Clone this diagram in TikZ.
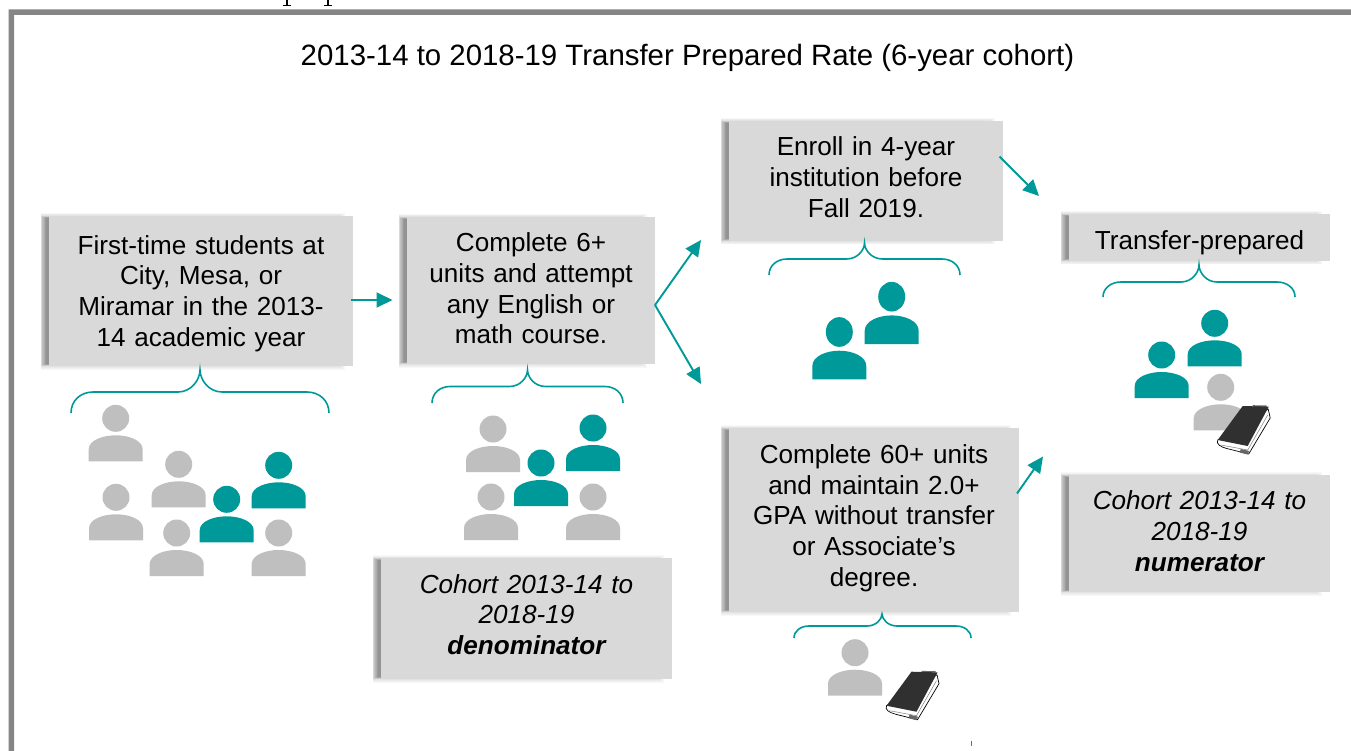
\documentclass[tikz,border=0pt]{standalone}
\usepackage{fontspec}
\setmainfont{Liberation Sans}
\usetikzlibrary{arrows.meta}
\definecolor{tealc}{HTML}{009999}
\definecolor{grayp}{HTML}{BFBFBF}
\definecolor{boxc}{HTML}{D9D9D9}
\definecolor{framec}{HTML}{858585}
\definecolor{bookc}{HTML}{303030}
\tikzset{
  x=1pt,y=-1pt,
  flow/.style={draw=tealc,line width=1.9pt,-{Triangle[length=16pt,width=15pt,fill=tealc]}},
  bracel/.style={draw=tealc,line width=1.6pt},
  boxlabel/.style={inner sep=0pt,align=center,font=\fontsize{26.1}{30.7}\selectfont},
  person/.pic={
    \fill (0,0) circle[radius=13.5];
    \fill (-27,43) -- (-27,31) .. controls (-27,22) and (-13,17) .. (0,17) .. controls (13,17) and (27,22) .. (27,31) -- (27,43) -- cycle;
  },
  book/.pic={
    \fill[white,draw=black,line width=.7pt,line join=round] (-25,34) .. controls (-27,38) and (-22,41) .. (-16,42.5) -- (6,48) -- (27.5,12) -- (25.5,3) -- cycle;
    \draw[gray,line width=.5pt] (-22,39) -- (5,44) -- (25,9);
    \fill[black!60] (-3,46.5) -- (5,48.5) -- (6.5,45) -- (-2,43) -- cycle;
    \fill[black!60] (10,-.8) -- (24,-.5) -- (24,1) -- (10,1) -- cycle;
    \fill[bookc] (0,0) -- (26,0.7) -- (5,40) -- (-25,34) -- cycle;
  }
}
% name, left, top, right, bottom, text y offset, text
\newcommand{\gbox}[7]{%
  \foreach \k in {0,1,2,3}{%
    \fill[black,opacity=.028] ({#2-8.5},{#3-3+\k*.75}) rectangle ({#4-8-\k*1.5},{#5+3.5-\k*.75});
  }%
  \foreach \k in {0,...,7}{%
    \fill[black,opacity=.05] ({#2-8+\k*.7},{#3+\k*.3}) rectangle (#2,{#5-\k*.3});
  }%
  \fill[boxc] (#2,#3) rectangle (#4,#5);
  \node[boxlabel,text width={#4-#2}] (#1) at ({(#2+#4)/2},{(#3+#5)/2+#6}) {#7};%
}
% left, tip x, right, tip y, top y, end y, x radius
\newcommand{\bracket}[7]{%
  \draw[bracel] (#1,#6) .. controls (#1,{#5+.4*(#6-#5)}) and ({#1+.45*#7},#5) .. ({#1+#7},#5)
    -- ({#2-#7},#5) .. controls ({#2-.4*#7},#5) and ({#2-.1},{#4+.45*(#5-#4)}) .. (#2,#4)
    .. controls ({#2+.1},{#4+.45*(#5-#4)}) and ({#2+.4*#7},#5) .. ({#2+#7},#5)
    -- ({#3-#7},#5) .. controls ({#3-.45*#7},#5) and (#3,{#5+.4*(#6-#5)}) .. (#3,#6);%
}
\begin{document}
\begin{tikzpicture}
\useasboundingbox (0,0) rectangle (1351,751);
\fill[white] (0,0) rectangle (1351,751);
% descenders of a line cut off by the top edge
\foreach \sx in {287.3,328}{
  \fill[black] (\sx-1,0) rectangle (\sx+1,5);
  \fill[black] (\sx-4,4.6) rectangle (\sx+4,5.6);
}
% frame
\fill[framec] (8.5,751) -- (8.5,9.5) -- (1351,9.5) -- (1351,15) -- (14,15) -- (14,751) -- cycle;
\node[inner sep=0pt,font=\fontsize{29.4}{32}\selectfont] (title) at (687.5,58) {2013-14 to 2018-19 Transfer Prepared Rate (6-year cohort)};
% boxes
\gbox{first}{49}{216}{353}{366}{2.5}{First-time students at\\City, Mesa, or\\Miramar in the 2013-\\14 academic year}
\gbox{six}{407}{217}{655}{364}{-2}{Complete 6+\\units and attempt\\any English or\\math course.}
\gbox{enroll}{729}{121}{1003}{241}{-4}{Enroll in 4-year\\institution before\\Fall 2019.}
\gbox{prepared}{1069}{214}{1330}{261}{5}{Transfer-prepared}
\gbox{sixty}{729}{428}{1019}{612}{-2}{Complete 60+ units\\and maintain 2.0+\\GPA without transfer\\or Associate’s\\degree.}
\gbox{numer}{1069}{475}{1330}{592}{-2.5}{\itshape Cohort 2013-14 to\\\itshape 2018-19\\\bfseries\itshape numerator}
\gbox{denom}{381}{558}{672}{679}{-4}{\itshape Cohort 2013-14 to\\\itshape 2018-19\\\bfseries\itshape denominator}
% arrows
\coordinate (a1s) at (351,300); \coordinate (a1e) at (392.5,300);
\coordinate (a2s) at (655,305); \coordinate (a2e) at (701,240);
\coordinate (a3e) at (701,384);
\coordinate (a4s) at (999.5,156.5); \coordinate (a4e) at (1039,196);
\coordinate (a5s) at (1017,493.5); \coordinate (a5e) at (1043,456.5);
\draw[flow] (a1s) -- (a1e);
\draw[flow] (a2s) -- (a2e);
\draw[flow] (a2s) -- (a3e);
\draw[flow] (a4s) -- (a4e);
\draw[flow] (a5s) -- (a5e);
% brackets
\bracket{71}{200}{329}{370}{392}{413}{22}
\bracket{432}{527.5}{623}{370}{386.5}{403}{18}
\bracket{769}{864.5}{960}{243}{259}{275}{18}
\bracket{1103}{1199}{1295}{265}{282}{297}{18}
\bracket{794}{882}{971}{614}{626}{638}{15}
\coordinate (marka) at (971,741); \coordinate (markb) at (971,746);
\draw[tealc,line width=.8pt] (marka) -- (markb);
% people
\foreach \px/\py in {115.7/418.3,116/497.3,178.7/464.3,176.7/533,278.7/533,493/429,491/497,593/497,1220.7/387.3,855/652.7}
  \pic[grayp] at (\px,\py) {person};
\foreach \px/\py in {226.7/499.3,278.7/465.3,593/428,541/463,1214.7/323.3,1161.7/355}
  \pic[tealc] at (\px,\py) {person};
\foreach \px/\py in {891.7/296.7,839.3/332}
  \pic[tealc,yscale=1.1] at (\px,\py) {person};
\pic at (911.5,671.7) {book};
\pic at (1242.7,406) {book};
\end{tikzpicture}
\end{document}
